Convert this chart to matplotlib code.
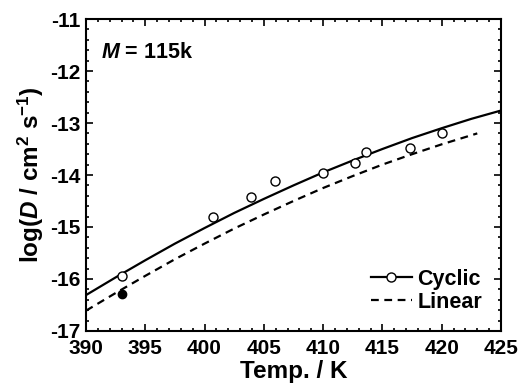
import numpy as np
import matplotlib
matplotlib.use("Agg")
import matplotlib.pyplot as plt
from matplotlib.ticker import MultipleLocator

# Measured data (open = cyclic, filled = linear)
temp_cyclic = [393.0, 400.7, 403.9, 405.9, 410.0, 412.7, 413.6, 417.3, 420.0]
logd_cyclic = [-15.94, -14.81, -14.43, -14.12, -13.97, -13.76, -13.56, -13.48, -13.19]
temp_linear = [393.0]
logd_linear = [-16.29]

# Fitted curves
temp_fit_cyclic = [390, 392.5, 395, 397.5, 400, 402.5, 405, 407.5, 410, 412.5,
                   415, 417.5, 420, 422.5, 425]
logd_fit_cyclic = [-16.31, -15.97, -15.64, -15.32, -15.02, -14.73, -14.46, -14.20,
                   -13.95, -13.72, -13.50, -13.29, -13.10, -12.92, -12.76]
temp_fit_linear = [390, 392.5, 395, 397.5, 400, 402.5, 405, 407.5, 410, 412.5,
                   415, 417.5, 420, 423]
logd_fit_linear = [-16.61, -16.27, -15.94, -15.62, -15.32, -15.03, -14.76, -14.50,
                   -14.25, -14.02, -13.80, -13.60, -13.41, -13.20]

plt.rcParams["font.family"] = ["Liberation Sans", "DejaVu Sans"]
plt.rcParams["font.weight"] = "bold"
plt.rcParams["axes.unicode_minus"] = False
plt.rcParams["mathtext.fontset"] = "custom"
plt.rcParams["mathtext.rm"] = "Liberation Sans:bold"
plt.rcParams["mathtext.it"] = "Liberation Sans:bold:italic"
plt.rcParams["mathtext.bf"] = "Liberation Sans:bold"

fig = plt.figure(figsize=(5.21, 3.85), dpi=100)
ax = fig.add_axes([0.165, 0.1403, 0.7966, 0.8103])

ax.plot(temp_fit_cyclic, logd_fit_cyclic, "-", color="black", linewidth=1.6)
ax.plot(temp_fit_linear, logd_fit_linear, "--", color="black", linewidth=1.6,
        dashes=(3.5, 2.5))
ax.plot(temp_cyclic, logd_cyclic, "o", color="black", markerfacecolor="white",
        markersize=6.5, markeredgewidth=1.0)
ax.plot(temp_linear, logd_linear, "o", color="black", markersize=6)

# legend handles
ax.plot([], [], "-o", color="black", markerfacecolor="white", markersize=6.5,
        linewidth=1.6, label="Cyclic")
ax.plot([], [], "--", color="black", linewidth=1.6, dashes=(3.5, 2.5), label="Linear")
ax.legend(loc="lower right", frameon=False, fontsize=15.5, handlelength=1.9,
          handletextpad=0.25, labelspacing=0.1, borderaxespad=0.0,
          bbox_to_anchor=(0.975, 0.03))

ax.set_xlim(390, 425)
ax.set_ylim(-17, -11)
ax.xaxis.set_major_locator(MultipleLocator(5))
ax.xaxis.set_minor_locator(MultipleLocator(1))
ax.yaxis.set_major_locator(MultipleLocator(1))
ax.yaxis.set_minor_locator(MultipleLocator(0.2))
ax.tick_params(which="both", direction="in", top=True, right=True, width=1.2,
               labelsize=15)
ax.tick_params(axis="x", pad=5.5)
ax.tick_params(axis="y", pad=4)
ax.tick_params(which="major", length=5)
ax.tick_params(which="minor", length=2.5)
for s in ax.spines.values():
    s.set_linewidth(1.5)

ax.set_xlabel("Temp. / K", fontsize=17.5, fontweight="bold", labelpad=1.5)
ax.set_ylabel(r"log($\mathit{D}$ / cm$^{2}$ s$^{-1}$)", fontsize=17.5,
              fontweight="bold", labelpad=3)
ax.text(0.037, 0.925, r"$\mathit{M}$ = 115k", transform=ax.transAxes,
        fontsize=15.5, fontweight="bold", va="top", ha="left")

fig.savefig("out.png", dpi=100)
